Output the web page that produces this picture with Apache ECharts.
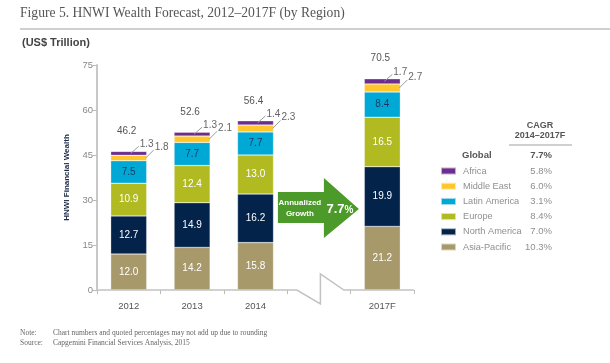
<!DOCTYPE html>
<html>
<head>
<meta charset="utf-8">
<script src="https://cdn.jsdelivr.net/npm/echarts@6/dist/echarts.min.js"></script>
<style>html,body{margin:0;padding:0;background:#fff;}#c{width:610px;height:363px;}</style>
</head>
<body>
<div id="c"></div>
<script>
const categories = ['2012', '2013', '2014', '', '2017F'];
const asiaPacific = [12.0, 14.2, 15.8, null, 21.2];
const northAmerica = [12.7, 14.9, 16.2, null, 19.9];
const europe = [10.9, 12.4, 13.0, null, 16.5];
const latinAmerica = [7.5, 7.7, 7.7, null, 8.4];
const middleEast = [1.8, 2.1, 2.3, null, 2.7];
const africa = [1.3, 1.3, 1.4, null, 1.7];
const totals = [46.2, 52.6, 56.4, null, 70.5];
const legendNames = ['Africa', 'Middle East', 'Latin America', 'Europe', 'North America', 'Asia-Pacific'];
const cagrGlobal = '7.7%';
const cagrValues = ['5.8%', '6.0%', '3.1%', '8.4%', '7.0%', '10.3%'];
const growthRate = '7.7';

const colors = {
  'Africa': '#6b2d8e', 'Middle East': '#ffc72c', 'Latin America': '#00a8d6',
  'Europe': '#b1bb21', 'North America': '#03234b', 'Asia-Pacific': '#a8996b'
};
const font = 'Liberation Sans, Arial, sans-serif';
const serif = 'Liberation Serif, Times New Roman, serif';

function barSeries(name, data, labelColor, showLabel) {
  return {
    name: name, type: 'bar', stack: 'w', data: data, barWidth: 36,
    itemStyle: { color: colors[name], borderColor: 'rgba(255,255,255,0.6)', borderWidth: 0.5 },
    label: { show: showLabel, position: 'inside', color: labelColor, fontSize: 10, fontFamily: font,
      formatter: p => p.value == null ? '' : p.value.toFixed(1) },
    emphasis: { disabled: true }
  };
}

// callout data: [catIndex, yMid, value, kind]
const calloutData = [];
const totalData = [];
categories.forEach((c, i) => {
  if (totals[i] == null) return;
  const base = asiaPacific[i] + northAmerica[i] + europe[i] + latinAmerica[i];
  calloutData.push([i, base + middleEast[i] / 2, middleEast[i], 1]);
  calloutData.push([i, base + middleEast[i] + africa[i] / 2, africa[i], 0]);
  totalData.push([i, totals[i]]);
});

const chart = echarts.init(document.getElementById('c'), null, { renderer: 'canvas' });
const option = {
  animation: false,
  textStyle: { fontFamily: font },
  grid: { left: 97, right: 196, top: 65, bottom: 73, containLabel: false },
  legend: {
    data: legendNames, orient: 'vertical', left: 440, top: 165, padding: 0, icon: 'rect',
    itemWidth: 15, itemHeight: 7, itemGap: 3.2, selectedMode: false,
    textStyle: { color: '#8f8f8f', fontSize: 9.2, lineHeight: 12, fontFamily: font, padding: [0, 0, 0, 2] }
  },
  xAxis: {
    type: 'category', data: categories,
    axisLine: { show: false },
    axisTick: { show: true, length: 4, lineStyle: { color: '#bbbbbb', width: 1 } },
    axisLabel: { color: '#555', fontSize: 9.5, margin: 11, fontFamily: font }
  },
  yAxis: {
    type: 'value', min: 0, max: 75, interval: 15,
    name: 'HNWI Financial Wealth', nameLocation: 'middle', nameRotate: 90, nameGap: 26,
    nameTextStyle: { color: '#1c2a44', fontSize: 8, fontWeight: 'bold', fontFamily: font },
    axisLine: { show: true, lineStyle: { color: '#c8c8c8', width: 2 } },
    axisTick: { show: true, length: 4, lineStyle: { color: '#bbbbbb' } },
    axisLabel: { color: '#888', fontSize: 9.5, margin: 4, fontFamily: font },
    splitLine: { show: false }
  },
  series: [
    barSeries('Asia-Pacific', asiaPacific, '#fff', true),
    barSeries('North America', northAmerica, '#fff', true),
    barSeries('Europe', europe, '#fff', true),
    barSeries('Latin America', latinAmerica, '#1c3a5e', true),
    barSeries('Middle East', middleEast, '#fff', false),
    barSeries('Africa', africa, '#fff', false),
    {
      type: 'custom', name: 'callouts', data: calloutData, silent: true, z: 10,
      renderItem: function (params, api) {
        const p = api.coord([api.value(0), api.value(1)]);
        const kind = api.value(3);
        const x0 = kind === 0 ? p[0] + 2 : p[0] + 17;
        const dy = kind === 0 ? 7 : 8;
        const ty = kind === 0 ? -9 : -11;
        return {
          type: 'group', children: [
            { type: 'line', shape: { x1: x0, y1: p[1], x2: x0 + 8, y2: p[1] - dy }, style: { stroke: '#9a9a9a', lineWidth: 1 } },
            { type: 'text', style: { x: x0 + 9, y: p[1] + ty, text: api.value(2).toFixed(1), fill: '#666', fontSize: 10, fontFamily: font, align: 'left', verticalAlign: 'middle' } }
          ]
        };
      }
    },
    {
      type: 'custom', name: 'totals', data: totalData, silent: true, z: 10,
      renderItem: function (params, api) {
        const p = api.coord([api.value(0), api.value(1)]);
        return { type: 'text', style: { x: p[0] - 2, y: p[1] - 20, text: api.value(1).toFixed(1), fill: '#555', fontSize: 10, fontFamily: font, align: 'center', verticalAlign: 'middle' } };
      }
    }
  ]
};
chart.setOption(option);

// decorations computed from the axes
const yZero = chart.convertToPixel({ yAxisIndex: 0 }, 0);
const xStart = chart.convertToPixel({ xAxisIndex: 0 }, 0) - 31.6;
const xBreak = chart.convertToPixel({ xAxisIndex: 0 }, 3);
const xEnd = chart.convertToPixel({ xAxisIndex: 0 }, 4) + 31.6;
const ay = 208;
const ax = xBreak;

const graphics = [
  { type: 'text', left: 20, top: 6, style: { text: 'Figure 5. HNWI Wealth Forecast, 2012–2017F (by Region)', fill: '#555', fontSize: 13.6, fontFamily: serif } },
  { type: 'rect', shape: { x: 20, y: 28, width: 590, height: 2 }, style: { fill: '#cfcfcf' } },
  { type: 'text', left: 22, top: 37, style: { text: '(US$ Trillion)', fill: '#444', fontSize: 11, fontWeight: 'bold', fontFamily: font } },
  { type: 'polyline', z: 5, shape: { points: [[xStart, yZero], [xBreak - 22, yZero], [xBreak + 1.5, yZero + 14], [xBreak + 1.5, yZero - 16], [xBreak + 25, yZero], [xEnd, yZero]] },
    style: { stroke: '#c2c2c2', lineWidth: 1.5, fill: null } },
  { type: 'polygon', z: 5, shape: { points: [[ax - 41, ay - 16], [ax + 5, ay - 16], [ax + 5, ay - 30], [ax + 40, ay + 1], [ax + 5, ay + 30], [ax + 5, ay + 15], [ax - 41, ay + 15]] },
    style: { fill: '#4c9a2a' } },
  { type: 'text', z: 6, style: { x: ax - 19, y: ay - 5, text: 'Annualized', fill: '#fff', fontSize: 8, fontWeight: 'bold', fontFamily: font, align: 'center', verticalAlign: 'middle' } },
  { type: 'text', z: 6, style: { x: ax - 19, y: ay + 6, text: 'Growth', fill: '#fff', fontSize: 8, fontWeight: 'bold', fontFamily: font, align: 'center', verticalAlign: 'middle' } },
  { type: 'text', z: 6, style: { x: ax + 21, y: ay + 1, text: '{a|' + growthRate + '}{b|%}', align: 'center', verticalAlign: 'middle',
      rich: { a: { fill: '#fff', fontSize: 13, fontWeight: 'bold', fontFamily: font }, b: { fill: '#fff', fontSize: 10, fontWeight: 'bold', fontFamily: font, padding: [2, 0, 0, 0] } } } },
  { type: 'text', style: { x: 540, y: 126, text: 'CAGR', fill: '#555', fontSize: 9, fontWeight: 'bold', fontFamily: font, align: 'center', verticalAlign: 'middle' } },
  { type: 'text', style: { x: 540, y: 136, text: '2014–2017F', fill: '#555', fontSize: 9, fontWeight: 'bold', fontFamily: font, align: 'center', verticalAlign: 'middle' } },
  { type: 'line', shape: { x1: 509, y1: 145, x2: 572, y2: 145 }, style: { stroke: '#a0a0a0', lineWidth: 1 } },
  { type: 'text', style: { x: 462, y: 155, text: 'Global', fill: '#555', fontSize: 9.5, fontWeight: 'bold', fontFamily: font, align: 'left', verticalAlign: 'middle' } },
  { type: 'text', style: { x: 552, y: 155, text: cagrGlobal, fill: '#555', fontSize: 9.5, fontWeight: 'bold', fontFamily: font, align: 'right', verticalAlign: 'middle' } },
  { type: 'text', left: 20, top: 329, style: { text: 'Note:', fill: '#666', fontSize: 7.5, fontFamily: serif } },
  { type: 'text', left: 53, top: 329, style: { text: 'Chart numbers and quoted percentages may not add up due to rounding', fill: '#666', fontSize: 7.5, fontFamily: serif } },
  { type: 'text', left: 20, top: 339, style: { text: 'Source:', fill: '#666', fontSize: 7.5, fontFamily: serif } },
  { type: 'text', left: 53, top: 339, style: { text: 'Capgemini Financial Services Analysis, 2015', fill: '#666', fontSize: 7.5, fontFamily: serif } }
];
cagrValues.forEach((v, i) => {
  graphics.push({ type: 'text', style: { x: 552, y: 171 + i * 15.2, text: v, fill: '#8f8f8f', fontSize: 9.5, fontFamily: font, align: 'right', verticalAlign: 'middle' } });
});
chart.setOption({ graphic: graphics });
</script>
</body>
</html>
